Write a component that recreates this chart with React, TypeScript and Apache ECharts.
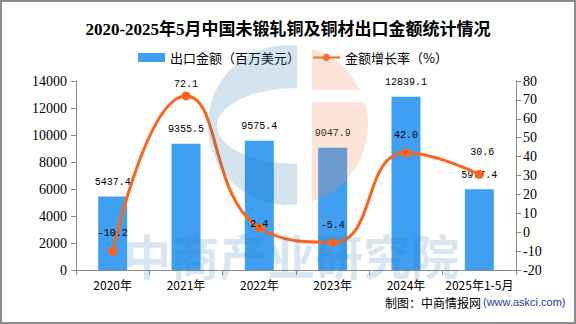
import React, { useEffect, useRef } from "react";
import * as echarts from "echarts";

const categories = ["2020年", "2021年", "2022年", "2023年", "2024年", "2025年1-5月"];
const exportValues = [5437.4, 9355.5, 9575.4, 9047.9, 12839.1, 5977.4];
const growthRates = [-10.2, 72.1, 2.4, -5.4, 42.0, 30.6];
const leftTicks = { min: 0, max: 14000, interval: 2000 };
const rightTicks = { min: -20, max: 80, interval: 10 };
const growthLabelOffsets = [[0, 0], [0, 6], [0, 14], [0, 1], [0, 0], [3, -4]];

const blueC = "M297,45.5 A80,80 0 1 0 297,204.5 L297,164 A80,38 0 0 1 297,88 Z";
const pinkTop = "M312,48.7 A80,80 0 0 1 359.9,90 L312,90 Z";
const pinkBottom = "M312,102 L364.6,102 A80,80 0 0 1 312,201.3 Z";
try {
  echarts.graphic.registerShape("wmBlue", echarts.graphic.extendPath(blueC, {}));
  echarts.graphic.registerShape("wmPinkTop", echarts.graphic.extendPath(pinkTop, {}));
  echarts.graphic.registerShape("wmPinkBottom", echarts.graphic.extendPath(pinkBottom, {}));
} catch (e) {}

const SANS = '"Noto Sans CJK SC", "Noto Sans", sans-serif';
const MONO = '"Liberation Mono", "DejaVu Sans Mono", monospace';
const SERIF = '"Liberation Serif", "DejaVu Serif", serif';

export default function App() {
  const ref = useRef<HTMLDivElement>(null);
  useEffect(() => {
    if (!ref.current) return;
    const chart = echarts.init(ref.current, null, { renderer: "svg" });
    const axisGray = "#8a8a8a";
    chart.setOption({
      animation: false,
      backgroundColor: "#ffffff",
      textStyle: { fontFamily: SANS },
      title: {
        text: "2020-2025年5月中国未锻轧铜及铜材出口金额统计情况",
        left: "center",
        top: 16,
        textStyle: { fontSize: 17, fontWeight: "bold", color: "#000", fontFamily: '"Liberation Serif", "Noto Sans CJK SC", serif' },
      },
      legend: {
        left: 133,
        top: 46,
        itemWidth: 27,
        itemHeight: 9,
        itemGap: 12,
        textStyle: { fontSize: 13, color: "#000", fontFamily: SANS },
        data: [
          { name: "出口金额（百万美元）", icon: "rect" },
          { name: "金额增长率（%）" },
        ],
      },
      grid: { left: 76, right: 60, top: 81, bottom: 54, containLabel: false },
      xAxis: {
        type: "category",
        data: categories,
        axisLine: { lineStyle: { color: axisGray } },
        axisTick: { show: true, length: 5, lineStyle: { color: axisGray } },
        axisLabel: { fontSize: 12, color: "#000", margin: 8, fontFamily: SANS, interval: 0 },
      },
      yAxis: [
        {
          type: "value",
          ...leftTicks,
          axisLine: { show: true, lineStyle: { color: axisGray } },
          axisTick: { show: true, length: 5, lineStyle: { color: axisGray } },
          splitLine: { show: false },
          axisLabel: { fontSize: 14, color: "#000", margin: 9, fontFamily: SERIF, formatter: (v: number) => String(v) },
        },
        {
          type: "value",
          position: "right",
          ...rightTicks,
          axisLine: { show: true, lineStyle: { color: axisGray } },
          axisTick: { show: true, length: 5, lineStyle: { color: axisGray } },
          splitLine: { show: false },
          axisLabel: { fontSize: 14, color: "#000", margin: 7, fontFamily: SERIF, formatter: (v: number) => String(v) },
        },
      ],
      series: [
        {
          name: "出口金额（百万美元）",
          type: "bar",
          data: exportValues,
          barWidth: 29,
          itemStyle: { color: "#3f9ff3" },
          label: {
            show: true,
            position: "top",
            distance: 9,
            fontSize: 10,
            color: "#000",
            fontFamily: MONO,
            formatter: (p: any) => Number(p.value).toFixed(1),
          },
        },
        {
          name: "金额增长率（%）",
          type: "line",
          yAxisIndex: 1,
          smooth: true,
          symbol: "circle",
          symbolSize: 9,
          data: growthRates.map((v, i) => ({
            value: v,
            label: { offset: growthLabelOffsets[i] },
          })),
          lineStyle: { color: "#ff631a", width: 3 },
          itemStyle: { color: "#ff631a" },
          label: {
            show: true,
            position: "top",
            distance: 8,
            fontSize: 10,
            color: "#000",
            fontFamily: MONO,
            formatter: (p: any) => Number(p.value).toFixed(1),
          },
        },
      ],
      graphic: {
        elements: [
          { type: "wmBlue", x: 0, y: 0, z: 100, silent: true, style: { fill: "rgba(42,122,176,0.2)" } },
          { type: "wmPinkTop", x: 0, y: 0, z: 100, silent: true, style: { fill: "rgba(240,144,95,0.25)" } },
          { type: "wmPinkBottom", x: 0, y: 0, z: 100, silent: true, style: { fill: "rgba(240,144,95,0.25)" } },
          {
            type: "text",
            x: 123,
            y: 254,
            z: 100,
            silent: true,
            style: {
              text: "中商产业研究院",
              font: 'bold 48px "Noto Sans CJK SC"',
              fill: "rgba(42,122,176,0.2)",
              verticalAlign: "middle",
            },
          },
          {
            type: "text",
            x: 385,
            y: 302,
            z: 101,
            style: {
              text: "制图：中商情报网",
              font: '12px "Noto Sans CJK SC"',
              fill: "#000",
              verticalAlign: "middle",
            },
          },
          {
            type: "text",
            x: 483,
            y: 302,
            z: 101,
            style: {
              text: "(www.askci.com)",
              font: '11px "Liberation Sans", Arial, sans-serif',
              fill: "#1f3d96",
              verticalAlign: "middle",
            },
          },
          {
            type: "rect",
            z: 101,
            shape: { x: 1, y: 1, width: 574, height: 322 },
            style: { fill: "none", stroke: "#8c8c8c", lineWidth: 2 },
          },
        ],
      },
    });
    return () => chart.dispose();
  }, []);
  return (
    <div
      ref={ref}
      style={{ position: "fixed", left: 0, top: 0, width: 576, height: 324 }}
    />
  );
}
